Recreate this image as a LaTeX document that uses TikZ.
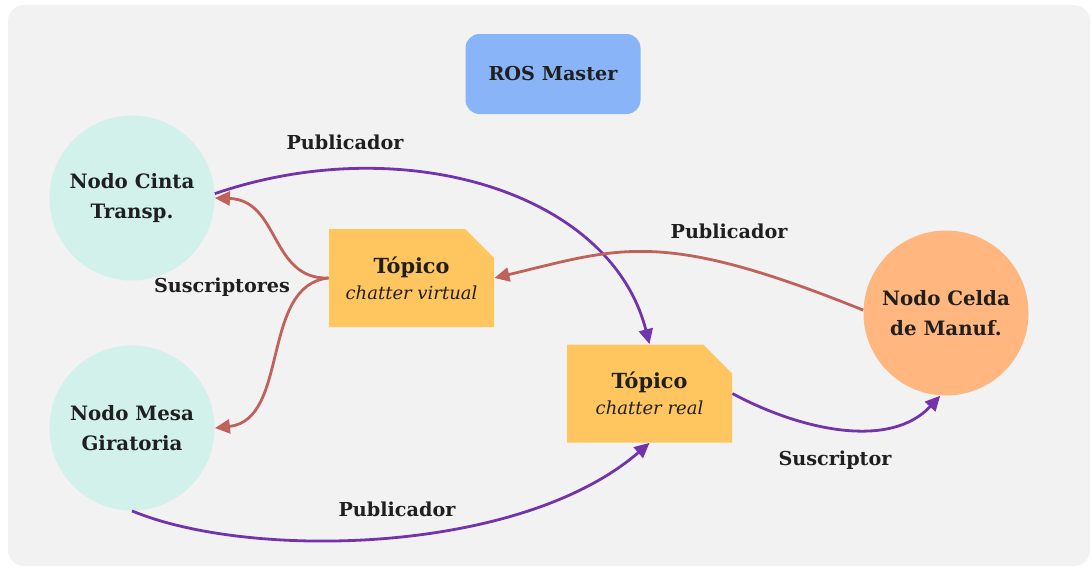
\documentclass[tikz,border=0pt]{standalone}
\usepackage{fontspec}
\setmainfont{DejaVu Serif}
\usetikzlibrary{arrows.meta}

\definecolor{panelbg}{HTML}{F2F2F2}
\definecolor{masterblue}{HTML}{8AB4F8}
\definecolor{mint}{HTML}{D2F1EA}
\definecolor{peach}{HTML}{FFB77F}
\definecolor{topicfill}{HTML}{FFC55E}
\definecolor{pubpurple}{HTML}{7334AB}
\definecolor{subred}{HTML}{C0625C}
\definecolor{inkdark}{HTML}{1F1F1F}

\begin{document}
\begin{tikzpicture}[x=0.5pt,y=-0.5pt,
  every node/.style={text=inkdark, font=\fontsize{9.6}{14.5}\selectfont\bfseries},
  nodecirc/.style={circle, minimum size=82.5pt, inner sep=0pt, align=center,
    font=\fontsize{9.9}{15}\selectfont\bfseries},
  master/.style={rectangle, rounded corners=7pt, fill=masterblue,
    minimum width=87.5pt, minimum height=40pt},
  topic/.style={rectangle, minimum width=82.5pt, minimum height=49pt,
    inner sep=0pt, align=center,
    font=\fontsize{10.4}{13}\selectfont\bfseries,
    path picture={\fill[topicfill] (path picture bounding box.south west)
      |- ([xshift=-14.5pt]path picture bounding box.north east)
      -- ([yshift=-14.5pt]path picture bounding box.north east)
      |- cycle;}},
  edgelabel/.style={inner sep=1pt},
  link/.style={line width=1.4pt, -{Triangle[length=7.5pt,width=7pt]}},
  publink/.style={link, draw=pubpurple},
  sublink/.style={link, draw=subred},
]
\useasboundingbox (0,0) rectangle (1092,568);

% panel behind everything
\fill[panelbg, rounded corners=8pt] (8,5) rectangle (1090,566);

% nodes
\node[master] (master) at (553,74) {ROS Master};
\node[nodecirc, fill=mint] (cinta) at (132,198) {Nodo Cinta\\Transp.};
\node[nodecirc, fill=mint] (mesa) at (132,428) {Nodo Mesa\\Giratoria};
\node[nodecirc, fill=peach] (celda) at (946,313) {Nodo Celda\\de Manuf.};
\node[topic] (tvirtual) at (411.5,278)
  {Tópico\\{\mdseries\itshape\fontsize{9}{13}\selectfont chatter virtual}};
\node[topic] (treal) at (649.5,393.5)
  {Tópico\\{\mdseries\itshape\fontsize{9}{13}\selectfont chatter real}};

% publishers and subscribers
\draw[publink] (cinta.3) .. controls (400,130) and (610,190) .. (treal.north);
\draw[publink] (mesa.-90) .. controls (250,560) and (520,555) .. (treal.south);
\draw[publink] (treal.east) .. controls (800,430) and (890,450) .. (celda.-94);
\draw[sublink] (celda.178) .. controls (660,228) and (620,248) .. (tvirtual.east);
\draw[sublink] (tvirtual.west) .. controls (270,280) and (280,200) .. (cinta.0);
\draw[sublink] (tvirtual.west) .. controls (260,285) and (290,420) .. (mesa.0);

% connector labels
\node[edgelabel] (lpubtop) at (345,142) {Publicador};
\node[edgelabel] (lsubs) at (222,287) {Suscriptores};
\node[edgelabel] (lpubright) at (729,231) {Publicador};
\node[edgelabel] (lsub) at (835,460) {Suscriptor};
\node[edgelabel] (lpubbottom) at (397,509) {Publicador};
\end{tikzpicture}
\end{document}
